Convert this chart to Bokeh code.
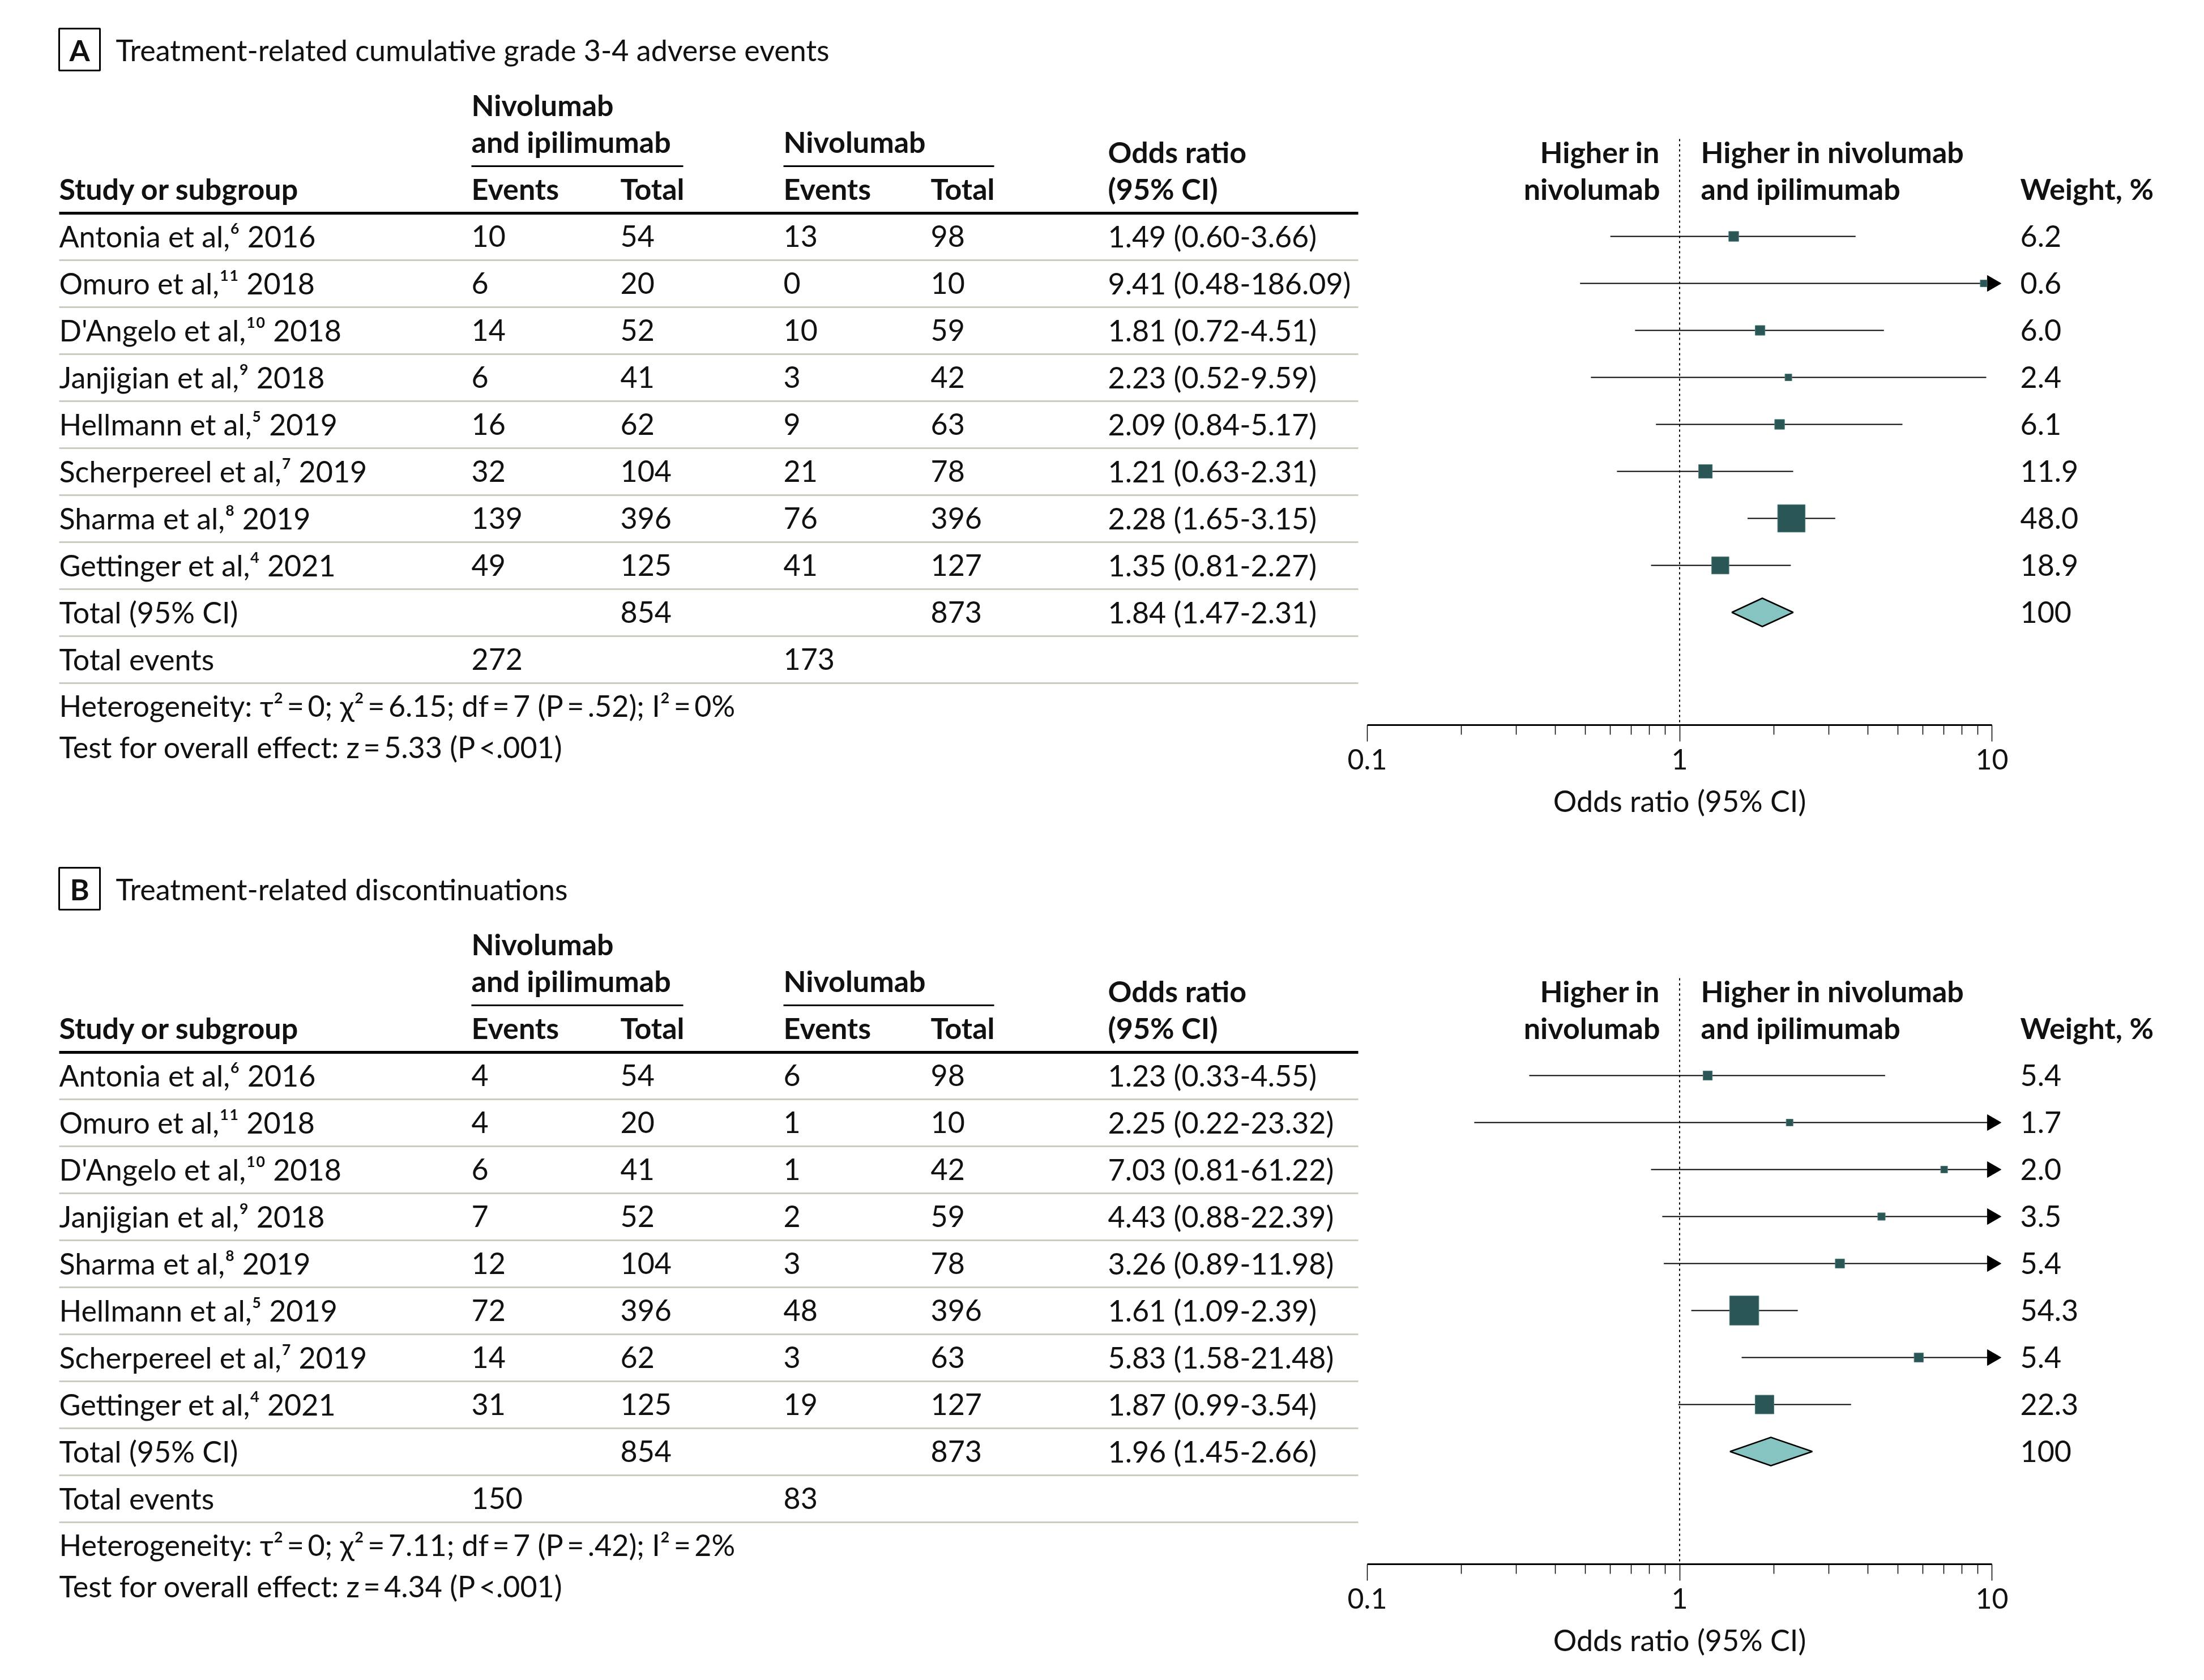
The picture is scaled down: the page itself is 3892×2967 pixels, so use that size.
import numpy as np
from bokeh.plotting import figure
from bokeh.models import (Range1d, LogScale, LogAxis, FixedTicker,
                          CustomJSTickFormatter, ColumnDataSource)
from bokeh.core.properties import value
from bokeh.embed import file_html
from bokeh.resources import INLINE

# ------------------------------------------------------------------ data
# Panel A: treatment-related cumulative grade 3-4 adverse events
studies_a = ["Antonia et al,\u2076 2016", "Omuro et al,\u00b9\u00b9 2018",
             "D'Angelo et al,\u00b9\u2070 2018", "Janjigian et al,\u2079 2018",
             "Hellmann et al,\u2075 2019", "Scherpereel et al,\u2077 2019",
             "Sharma et al,\u2078 2019", "Gettinger et al,\u2074 2021"]
combo_events_a = [10, 6, 14, 6, 16, 32, 139, 49]
combo_total_a = [54, 20, 52, 41, 62, 104, 396, 125]
nivo_events_a = [13, 0, 10, 3, 9, 21, 76, 41]
nivo_total_a = [98, 10, 59, 42, 63, 78, 396, 127]
or_a = [1.49, 9.41, 1.81, 2.23, 2.09, 1.21, 2.28, 1.35]
lo_a = [0.60, 0.48, 0.72, 0.52, 0.84, 0.63, 1.65, 0.81]
hi_a = [3.66, 186.09, 4.51, 9.59, 5.17, 2.31, 3.15, 2.27]
weight_a = [6.2, 0.6, 6.0, 2.4, 6.1, 11.9, 48.0, 18.9]
total_ns_a = [854, 873]          # combination total, nivolumab total
total_or_a = [1.84, 1.47, 2.31]  # OR, lower, upper
total_events_a = [272, 173]
het_a = ["0", "6.15", "7", ".52", "0"]   # tau2, chi2, df, P, I2
test_a = ["5.33", "<.001"]

# Panel B: treatment-related discontinuations
studies_b = ["Antonia et al,\u2076 2016", "Omuro et al,\u00b9\u00b9 2018",
             "D'Angelo et al,\u00b9\u2070 2018", "Janjigian et al,\u2079 2018",
             "Sharma et al,\u2078 2019", "Hellmann et al,\u2075 2019",
             "Scherpereel et al,\u2077 2019", "Gettinger et al,\u2074 2021"]
combo_events_b = [4, 4, 6, 7, 12, 72, 14, 31]
combo_total_b = [54, 20, 41, 52, 104, 396, 62, 125]
nivo_events_b = [6, 1, 1, 2, 3, 48, 3, 19]
nivo_total_b = [98, 10, 42, 59, 78, 396, 63, 127]
or_b = [1.23, 2.25, 7.03, 4.43, 3.26, 1.61, 5.83, 1.87]
lo_b = [0.33, 0.22, 0.81, 0.88, 0.89, 1.09, 1.58, 0.99]
hi_b = [4.55, 23.32, 61.22, 22.39, 11.98, 2.39, 21.48, 3.54]
weight_b = [5.4, 1.7, 2.0, 3.5, 5.4, 54.3, 5.4, 22.3]
total_ns_b = [854, 873]
total_or_b = [1.96, 1.45, 2.66]
total_events_b = [150, 83]
het_b = ["0", "7.11", "7", ".42", "2"]
test_b = ["4.34", "<.001"]

major_ticks = [0.1, 1, 10]
minor_ticks = [0.2, 0.3, 0.4, 0.5, 0.6, 0.7, 0.8, 0.9,
               2, 3, 4, 5, 6, 7, 8, 9]

# ------------------------------------------------------------------ style / layout
FONT = "Lato"
FS = "52px"
FS_TICK = "50px"
TXT = "#111111"
SQ_COL = "#2b5656"
DIA_COL = "#86c4c2"
SEP_COL = "#c9ccbf"
TDY = -20   # compensate text baseline rendering offset

W, H = 3876, 2951
X0, Y0 = 0, 0                        # page offset of the figure
OR_MIN, OR_MAX = 0.1, 10
PX_OR_MIN, PX_OR_MAX = 2414, 3517   # page pixels of OR=0.1 and OR=10

X_STUDY, X_CE, X_CT, X_NE, X_NT, X_OR, X_W = 104, 832, 1095, 1383, 1643, 1956, 3567
X_SEP_R = 2398
Y_BASE0, PITCH, MID = 436, 83, 19
PANEL_DY = 1482

# log range mapped so that OR 0.1..10 lands on PX_OR_MIN..PX_OR_MAX
dec = (PX_OR_MAX - PX_OR_MIN) / 2.0
px_one = (PX_OR_MIN + PX_OR_MAX) / 2.0
log_lo = (X0 - px_one) / dec
log_hi = (X0 + W - px_one) / dec

p = figure(width=W, height=H, x_range=Range1d(X0, X0 + W), y_range=Range1d(Y0 + H, Y0),
           x_axis_type=None, y_axis_type=None, toolbar_location=None,
           output_backend="svg", min_border=0, outline_line_color=None)
p.extra_x_ranges = {"or": Range1d(10 ** log_lo, 10 ** log_hi)}
p.extra_x_scales = {"or": LogScale()}
p.xgrid.visible = False
p.ygrid.visible = False
p.background_fill_color = "white"


def txt(xs, ys, texts, bold=False, align="left", size=FS, x_range_name="default"):
    src = ColumnDataSource(dict(x=list(xs), y=[v + TDY for v in ys], t=list(texts)))
    p.text(x="x", y="y", text="t", source=src, text_font=value(FONT),
           text_font_size=value(size), text_font_style="bold" if bold else "normal",
           text_align=align, text_baseline="alphabetic", text_color=TXT,
           x_range_name=x_range_name)


def draw_panel(dy, letter, title, studies, ce, ct, ne, nt, orv, lo, hi, w,
               tot_ns, tot_or, tot_ev, het, test):
    n = len(studies)
    base = [Y_BASE0 + dy + PITCH * i for i in range(n + 2)]
    mid = [b - MID for b in base]

    # title box and title
    p.quad(left=[104], right=[176], top=[50 + dy], bottom=[124 + dy],
           fill_color=None, line_color="black", line_width=3)
    txt([140], [107 + dy], [letter], bold=True, align="center")
    txt([204], [107 + dy], [title])

    # column headers
    txt([X_CE], [204 + dy], ["Nivolumab"], bold=True)
    txt([X_CE, X_NE], [269 + dy] * 2, ["and ipilimumab", "Nivolumab"], bold=True)
    p.segment(x0=[X_CE, X_NE], x1=[1206, 1755], y0=[293 + dy] * 2, y1=[293 + dy] * 2,
              line_color="black", line_width=3)
    txt([X_STUDY, X_CE, X_CT, X_NE, X_NT, X_OR], [352 + dy] * 6,
        ["Study or subgroup", "Events", "Total", "Events", "Total", "(95% CI)"], bold=True)
    txt([X_OR], [287 + dy], ["Odds ratio"], bold=True)
    txt([2931, 2931], [287 + dy, 352 + dy], ["Higher in", "nivolumab"], bold=True, align="right")
    txt([3003, 3003], [287 + dy, 352 + dy], ["Higher in nivolumab", "and ipilimumab"], bold=True)
    txt([X_W], [352 + dy], ["Weight, %"], bold=True)
    p.segment(x0=[X_STUDY], x1=[X_SEP_R], y0=[376 + dy], y1=[376 + dy],
              line_color="black", line_width=5)

    # row separators
    seps = [b + 23 for b in base]
    p.segment(x0=[X_STUDY] * len(seps), x1=[X_SEP_R] * len(seps), y0=seps, y1=seps,
              line_color=SEP_COL, line_width=3)

    # study rows
    txt([X_STUDY] * n, base[:n], studies)
    txt([X_CE] * n, base[:n], [str(v) for v in ce])
    txt([X_CT] * n, base[:n], [str(v) for v in ct])
    txt([X_NE] * n, base[:n], [str(v) for v in ne])
    txt([X_NT] * n, base[:n], [str(v) for v in nt])
    txt([X_OR] * n, base[:n], [f"{a:.2f} ({b:.2f}-{c:.2f})" for a, b, c in zip(orv, lo, hi)])
    txt([X_W] * n, base[:n], [f"{v:.1f}" for v in w])

    # total rows
    tb, eb = base[n], base[n + 1]
    txt([X_STUDY, X_CT, X_NT, X_OR, X_W], [tb] * 5,
        ["Total (95% CI)", str(tot_ns[0]), str(tot_ns[1]),
         f"{tot_or[0]:.2f} ({tot_or[1]:.2f}-{tot_or[2]:.2f})", "100"])
    txt([X_STUDY, X_CE, X_NE], [eb] * 3, ["Total events", str(tot_ev[0]), str(tot_ev[1])])

    # heterogeneity / overall effect
    t2, c2, df, ph, i2 = het
    txt([X_STUDY], [1265 + dy],
        [f"Heterogeneity: \u03c4\u00b2\u2009=\u2009{t2}; \u03c7\u00b2\u2009=\u2009{c2}; "
         f"df\u2009=\u2009{df} (P\u2009=\u2009{ph}); I\u00b2\u2009=\u2009{i2}%"])
    txt([X_STUDY], [1338 + dy],
        [f"Test for overall effect: z\u2009=\u2009{test[0]} (P\u2009{test[1]})"])

    # forest plot
    axis_y = 1280 + dy
    p.segment(x0=[1], x1=[1], y0=[245 + dy], y1=[axis_y], line_color="black",
              line_width=2, line_dash="4 5", x_range_name="or")
    hi_c = np.minimum(np.array(hi), OR_MAX)
    lo_c = np.maximum(np.array(lo), OR_MIN)
    p.segment(x0=lo_c, x1=hi_c, y0=mid[:n], y1=mid[:n], line_color="black",
              line_width=2.2, x_range_name="or")
    arrow_rows = [m for m, h in zip(mid[:n], hi) if h > OR_MAX]
    if arrow_rows:
        p.scatter(x=[OR_MAX] * len(arrow_rows), y=arrow_rows, marker="triangle",
                  size=28, angle=-np.pi / 2, fill_color="black", line_color="black",
                  x_range_name="or")
    sizes = [max(12.0, 7.0 * np.sqrt(v)) for v in w]
    p.scatter(x=orv, y=mid[:n], size=sizes, marker="square", fill_color=SQ_COL,
              line_color="#4f7c7c", line_width=1, x_range_name="or")
    tm = mid[n]
    p.patch(x=[tot_or[1], tot_or[0], tot_or[2], tot_or[0]],
            y=[tm, tm - 25, tm, tm + 25], fill_color=DIA_COL, line_color="black",
            line_width=2.5, x_range_name="or")

    ax = LogAxis(x_range_name="or", fixed_location=axis_y, bounds=(OR_MIN, OR_MAX),
                 ticker=FixedTicker(ticks=major_ticks, minor_ticks=minor_ticks),
                 formatter=CustomJSTickFormatter(code="return String(tick)"),
                 axis_line_width=3, axis_line_color="black",
                 major_tick_in=0, major_tick_out=29, minor_tick_in=0, minor_tick_out=17,
                 major_tick_line_width=1.5, minor_tick_line_width=1.5,
                 major_label_text_font=FONT, major_label_text_font_size=FS_TICK,
                 major_label_text_color=TXT, major_label_standoff=13)
    p.add_layout(ax, "below")
    txt([1], [1433 + dy], ["Odds ratio (95% CI)"], align="center", x_range_name="or")


draw_panel(0, "A", "Treatment-related cumulative grade 3-4 adverse events",
           studies_a, combo_events_a, combo_total_a, nivo_events_a, nivo_total_a,
           or_a, lo_a, hi_a, weight_a, total_ns_a, total_or_a, total_events_a, het_a, test_a)
draw_panel(PANEL_DY, "B", "Treatment-related discontinuations",
           studies_b, combo_events_b, combo_total_b, nivo_events_b, nivo_total_b,
           or_b, lo_b, hi_b, weight_b, total_ns_b, total_or_b, total_events_b, het_b, test_b)

open("out.html", "w").write(file_html(p, INLINE))
